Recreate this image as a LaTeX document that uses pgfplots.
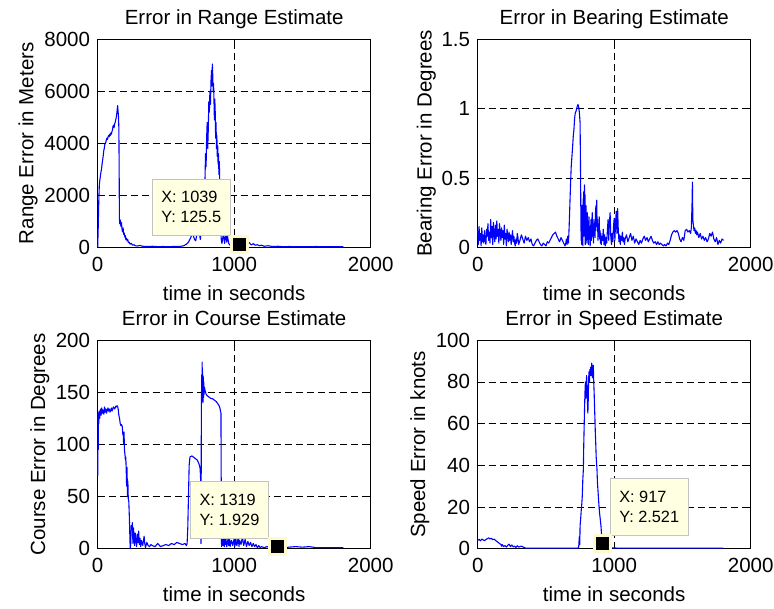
\documentclass[border=0pt]{standalone}
\usepackage{pgfplots}
\pgfplotsset{compat=1.18}
\usepackage{fontspec}
\setmainfont{Liberation Sans}
\definecolor{mblue}{RGB}{0,0,255}
\definecolor{tipfill}{RGB}{255,255,225}
\definecolor{tipedge}{RGB}{195,195,195}
\definecolor{markedge}{RGB}{255,250,205}
\newcommand{\mfont}{\fontsize{20.5}{24}\selectfont}
\tikzset{
 tipbox/.style={fill=tipfill, draw=tipedge, line width=0.8pt, align=left, font=\fontsize{16.3}{20}\selectfont, inner xsep=9pt, inner ysep=12.6pt},
}
\pgfplotsset{
 every axis title/.style={at={(axis description cs:0.5,1.069)}, anchor=base, inner sep=0pt, font=\mfont},
 mystyle/.style={
  scale only axis, width=273pt, height=208pt,
  xmin=0, xmax=2000, xtick={0,1000,2000},
  clip=false,
  grid=major,
  major grid style={black, line width=0.7pt, dash pattern=on 7pt off 4pt},
  axis line style={black, line width=1.1pt},
  tick align=inside, major tick length=4pt, tick style={black, line width=0.8pt},
  /pgf/number format/assume math mode=true,
  /pgf/number format/1000 sep={},
  scaled ticks=false,
  yticklabel style={anchor=east, inner sep=0pt, xshift=-7.5pt, font=\mfont},
  xticklabel style={anchor=north, inner sep=0pt, yshift=-9.5pt, font=\mfont},
  xlabel style={at={(axis description cs:0.5,-0.2534)}, anchor=base, inner sep=0pt, font=\mfont},
  ylabel style={anchor=base, inner sep=0pt, font=\mfont},
  xlabel={time in seconds},
 },
 dline/.style={mblue, line width=1.1pt, line join=round},
 tipmark/.style={only marks, mark=square*, mark size=8pt, mark options={fill=black, draw=markedge, line width=3pt}},
}
\begin{document}
\begin{tikzpicture}
\useasboundingbox (0pt,0pt) rectangle (774pt,-608pt);
% ---------------- Range ----------------
\begin{axis}[mystyle, at={(97.7pt,-247.3pt)}, anchor=south west,
  ymin=0, ymax=8000, ytick={0,2000,4000,6000,8000},
  title={Error in Range Estimate},
  ylabel={Range Error in Meters},
  ylabel style={at={(axis description cs:-0.236,0.5)}}]
\addplot[dline] coordinates {
(0,0) (4,800) (8,1800) (12,2400) (16,2600) (20,2750) (24,2900) (28,3000) (32,3200) (36,3350)
(40,3500) (44,3700) (48,3800) (52,3950) (56,4000) (60,4050) (64,4150) (68,4200) (72,4150) (76,4250)
(80,4300) (84,4250) (88,4350) (92,4300) (96,4400) (100,4350) (104,4450) (108,4500) (112,4650) (116,4700)
(120,4600) (124,4750) (128,4800) (132,4900) (136,5000) (140,5150) (143,5300) (146,5450) (149,5250) (152,5050)
(155,4600) (157,3200) (159,1100) (162,900) (166,1050) (170,800) (174,950) (178,700) (182,600) (186,750)
(190,500) (194,550) (198,400) (202,450) (206,300) (210,350) (215,250) (220,300) (225,180) (230,200)
(238,120) (246,150) (255,80) (265,100) (275,60) (290,50) (310,70) (330,40) (360,30) (400,40)
(440,25) (480,30) (520,20) (560,35) (600,30) (630,60) (650,120) (665,200) (680,350) (690,500)
(700,450) (710,300) (718,250) (725,450) (732,700) (740,800) (746,500) (752,300) (758,600) (764,1000)
(770,1300) (776,900) (780,1500) (786,2600) (790,3600) (794,3100) (798,4200) (802,4800) (806,3800) (810,4500)
(814,5600) (818,5200) (822,6000) (826,5500) (830,6400) (834,6800) (837,6200) (840,7050) (843,6600) (846,6000)
(849,6300) (852,5600) (855,4900) (858,5700) (861,5200) (864,4200) (867,4800) (870,3800) (873,4300) (876,3500)
(879,3900) (882,3200) (885,3600) (888,2800) (891,3300) (894,2500) (897,1800) (900,1200) (903,500) (906,250)
(910,150) (915,300) (920,500) (925,350) (930,150) (935,400) (940,600) (945,200) (950,450) (955,300)
(960,150) (970,80) (980,150) (990,100) (1000,70) (1010,90) (1020,100) (1030,110) (1039,125.5) (1050,100)
(1065,80) (1080,60) (1095,120) (1110,180) (1125,90) (1140,140) (1155,80) (1170,100) (1185,60) (1200,80)
(1220,40) (1250,60) (1280,30) (1320,40) (1360,20) (1400,30) (1450,25) (1500,20) (1550,25) (1600,30)
(1650,20) (1700,25) (1750,20) (1800,20)
};
\addplot[tipmark] coordinates {(1039,125.5)};
\node[tipbox, anchor=south east, xshift=-9pt, yshift=8pt] at (axis cs:1039,125.5) {X: 1039\\Y: 125.5};
\end{axis}
% ---------------- Bearing ----------------
\begin{axis}[mystyle, at={(477.7pt,-247.3pt)}, anchor=south west,
  ymin=0, ymax=1.5, ytick={0,0.5,1,1.5},
  title={Error in Bearing Estimate},
  ylabel={Bearing Error in Degrees},
  ylabel style={at={(axis description cs:-0.1685,0.5)}}]
\addplot[dline] coordinates {
(0,0.12) (5,0.02) (10,0.15) (15,0.05) (20,0.10) (25,0.01) (30,0.14) (35,0.04) (40,0.09) (45,0.03)
(50,0.12) (55,0.06) (60,0.02) (65,0.13) (70,0.08) (75,0.17) (80,0.05) (85,0.11) (90,0.03) (95,0.20)
(100,0.07) (105,0.15) (110,0.02) (115,0.18) (120,0.09) (125,0.04) (130,0.16) (135,0.06) (140,0.19) (145,0.08)
(150,0.13) (155,0.03) (160,0.17) (165,0.10) (170,0.05) (175,0.14) (180,0.07) (185,0.12) (190,0.02) (195,0.16)
(200,0.06) (205,0.10) (210,0.01) (215,0.13) (220,0.08) (225,0.04) (230,0.11) (235,0.05) (240,0.09) (245,0.02)
(250,0.07) (255,0.12) (260,0.04) (265,0.08) (270,0.03) (275,0.01) (280,0.06) (285,0.03) (290,0.10) (295,0.07)
(300,0.02) (310,0.05) (320,0.09) (330,0.06) (340,0.03) (350,0.08) (360,0.05) (370,0.07) (380,0.04) (390,0.06)
(400,0.02) (410,0.01) (420,0.03) (430,0.05) (440,0.06) (450,0.04) (460,0.02) (470,0.01) (480,0.03) (490,0.02)
(500,0.01) (510,0.04) (520,0.03) (530,0.05) (540,0.07) (550,0.09) (560,0.10) (570,0.11) (580,0.08) (590,0.06)
(600,0.04) (610,0.07) (620,0.05) (630,0.03) (640,0.01) (645,0.03) (650,0.06) (655,0.02) (660,0.08) (665,0.03)
(670,0.15) (675,0.30) (680,0.45) (685,0.58) (690,0.65) (695,0.72) (700,0.80) (705,0.85) (710,0.93) (715,0.97)
(720,0.98) (725,1.00) (730,1.02) (735,1.03) (740,1.01) (745,0.97) (750,0.90) (753,0.60) (756,0.20) (758,0.05)
(760,0.25) (762,0.02) (764,0.30) (766,0.05) (768,0.20) (770,0.01) (772,0.35) (774,0.10) (776,0.40) (778,0.08)
(780,0.30) (782,0.45) (784,0.12) (786,0.38) (788,0.02) (790,0.25) (792,0.10) (794,0.30) (796,0.05) (798,0.20)
(800,0.03) (803,0.25) (806,0.08) (809,0.18) (812,0.02) (815,0.22) (818,0.10) (821,0.15) (824,0.01) (827,0.12)
(830,0.20) (833,0.05) (836,0.17) (839,0.25) (842,0.08) (845,0.14) (848,0.03) (851,0.20) (854,0.10) (857,0.18)
(860,0.07) (863,0.25) (866,0.30) (869,0.15) (872,0.34) (875,0.12) (878,0.20) (881,0.05) (884,0.15) (887,0.08)
(890,0.22) (893,0.06) (896,0.12) (899,0.03) (902,0.10) (905,0.02) (910,0.08) (915,0.05) (920,0.13) (925,0.02)
(930,0.09) (935,0.01) (940,0.07) (945,0.03) (950,0.12) (955,0.20) (960,0.05) (965,0.18) (970,0.25) (975,0.08)
(980,0.02) (985,0.10) (990,0.04) (995,0.15) (1000,0.21) (1005,0.05) (1010,0.18) (1015,0.26) (1020,0.10) (1025,0.28)
(1030,0.12) (1035,0.04) (1040,0.09) (1045,0.02) (1050,0.08) (1055,0.05) (1060,0.11) (1065,0.04) (1070,0.07) (1075,0.02)
(1080,0.06) (1090,0.09) (1100,0.04) (1110,0.07) (1120,0.10) (1130,0.05) (1140,0.08) (1150,0.03) (1160,0.06) (1170,0.04)
(1180,0.02) (1190,0.05) (1200,0.03) (1210,0.06) (1220,0.08) (1230,0.05) (1240,0.07) (1250,0.04) (1260,0.06) (1270,0.08)
(1280,0.05) (1290,0.03) (1300,0.04) (1310,0.02) (1320,0.04) (1330,0.02) (1340,0.03) (1350,0.02) (1360,0.01) (1370,0.02)
(1380,0.01) (1390,0.03) (1400,0.02) (1410,0.05) (1420,0.09) (1430,0.11) (1440,0.12) (1450,0.11) (1460,0.12) (1470,0.10)
(1480,0.06) (1490,0.04) (1500,0.07) (1510,0.05) (1520,0.12) (1530,0.13) (1540,0.11) (1550,0.12) (1560,0.10) (1565,0.14)
(1570,0.30) (1573,0.47) (1576,0.20) (1580,0.16) (1585,0.12) (1590,0.14) (1595,0.10) (1600,0.12) (1605,0.09) (1610,0.11)
(1620,0.07) (1630,0.10) (1640,0.06) (1650,0.08) (1660,0.05) (1670,0.07) (1680,0.04) (1690,0.06) (1700,0.10) (1710,0.08)
(1720,0.11) (1730,0.06) (1740,0.04) (1750,0.07) (1760,0.02) (1770,0.05) (1780,0.03) (1790,0.06) (1800,0.05)
};
\end{axis}
% ---------------- Course ----------------
\begin{axis}[mystyle, at={(97.7pt,-548.7pt)}, anchor=south west, height=208.5pt,
  ymin=0, ymax=200, ytick={0,50,100,150,200},
  title={Error in Course Estimate},
  title style={at={(axis description cs:0.5,1.072)}},
  ylabel={Course Error in Degrees},
  ylabel style={at={(axis description cs:-0.193,0.5)}}]
\addplot[dline] coordinates {
(0,70) (2,130) (4,95) (6,128) (8,120) (10,132) (15,125) (20,134) (25,128) (30,135)
(35,130) (40,133) (45,129) (50,136) (55,131) (60,134) (65,130) (70,133) (75,135) (80,132)
(85,134) (90,131) (95,133) (100,135) (105,132) (110,134) (115,136) (120,135) (125,134) (130,136)
(135,137) (140,136) (145,137) (150,134) (155,128) (160,125) (165,120) (170,118) (175,119) (180,117)
(184,110) (188,108) (190,100) (193,112) (196,95) (200,90) (203,85) (206,88) (209,75) (212,60)
(215,78) (218,50) (221,65) (224,48) (228,45) (232,30) (236,10) (238,0) (242,5) (246,22)
(250,18) (254,25) (258,5) (262,20) (266,12) (270,3) (275,15) (280,8) (285,2) (290,14)
(295,6) (300,17) (305,4) (310,10) (315,2) (320,8) (330,3) (340,12) (345,5) (350,1)
(360,6) (370,3) (380,2) (390,4) (400,3) (420,2) (440,5) (460,2) (480,3) (500,4)
(520,3) (540,5) (560,4) (580,6) (600,5) (620,4) (640,5) (650,3) (655,5) (660,20)
(665,50) (670,80) (676,88) (690,89) (700,88) (710,87) (720,86) (730,85) (740,82) (745,80)
(750,77) (753,70) (755,62) (757,5) (758,60) (759,110) (760,140) (762,167) (764,150) (765,179)
(767,160) (769,170) (771,140) (773,165) (775,145) (777,160) (779,148) (782,155) (786,152) (790,150)
(795,148) (800,147) (810,146) (820,145) (830,144) (840,144) (850,143) (860,142) (870,141) (880,139)
(890,137) (895,135) (900,132) (903,130) (905,60) (906,10) (908,2) (912,8) (916,15) (920,3)
(924,10) (928,2) (932,12) (936,4) (940,9) (945,2) (950,5) (955,10) (960,3) (965,12)
(970,2) (980,8) (990,3) (1000,10) (1005,2) (1010,14) (1015,5) (1020,3) (1030,12) (1035,2)
(1040,8) (1050,4) (1060,11) (1070,3) (1080,9) (1090,2) (1100,7) (1110,3) (1120,6) (1130,2)
(1140,5) (1150,2) (1160,4) (1170,1) (1180,3) (1190,1) (1200,2) (1220,1) (1240,2) (1260,1)
(1280,2) (1300,1.5) (1319,1.929) (1340,1.5) (1360,2) (1380,1) (1400,1.5) (1450,2) (1500,1.5) (1550,2)
(1600,1) (1650,1) (1700,1) (1750,1) (1800,1)
};
\addplot[tipmark] coordinates {(1319,1.929)};
\node[tipbox, anchor=south east, xshift=-9pt, yshift=8pt] at (axis cs:1319,1.929) {X: 1319\\Y: 1.929};
\end{axis}
% ---------------- Speed ----------------
\begin{axis}[mystyle, at={(477.7pt,-548.7pt)}, anchor=south west, height=208.5pt,
  ymin=0, ymax=100, ytick={0,20,40,60,80,100},
  title={Error in Speed Estimate},
  title style={at={(axis description cs:0.5,1.072)}},
  ylabel={Speed Error in knots},
  ylabel style={at={(axis description cs:-0.193,0.5)}}]
\addplot[dline] coordinates {
(0,4) (10,4.5) (20,3.8) (30,4.6) (40,4.2) (50,3.9) (60,4.4) (70,4.8) (80,5.2) (90,4.7)
(100,5.0) (110,4.3) (120,4.6) (130,4.0) (140,3.5) (150,3.0) (160,2.5) (170,2.0) (175,1.2) (180,2.0)
(190,1.0) (200,1.5) (210,0.8) (220,1.6) (230,2.2) (240,1.0) (250,1.8) (260,0.9) (270,1.2) (280,0.6)
(290,1.4) (300,0.8) (320,1.2) (340,0.6) (350,0.3) (400,0.3) (500,0.3) (600,0.3) (700,0.3) (735,0.3)
(740,1) (745,6) (748,2) (750,11) (754,14) (758,18) (762,21) (766,25) (770,33) (774,38)
(777,50) (780,59) (783,68) (786,75) (789,80) (792,72) (795,79) (798,83) (801,77) (804,70)
(807,65) (810,72) (813,82) (816,85) (819,80) (822,86) (825,84) (828,87) (831,83) (835,89)
(838,85) (841,82) (844,86) (847,88) (850,80) (853,75) (856,68) (859,62) (862,55) (865,50)
(868,44) (871,41) (874,38) (877,32) (880,29) (884,25) (888,21) (893,17) (898,14) (903,11)
(906,8) (909,5) (912,4) (917,2.521) (922,1.8) (930,2.2) (940,1.5) (950,2) (960,0.8) (970,0.5)
(990,0.4) (1020,0.3) (1200,0.3) (1500,0.3) (1800,0.3)
};
\addplot[tipmark] coordinates {(917,2.521)};
\node[tipbox, anchor=south west, xshift=7pt, yshift=8pt] at (axis cs:917,2.521) {X: 917\\Y: 2.521};
\end{axis}
\end{tikzpicture}
\end{document}
